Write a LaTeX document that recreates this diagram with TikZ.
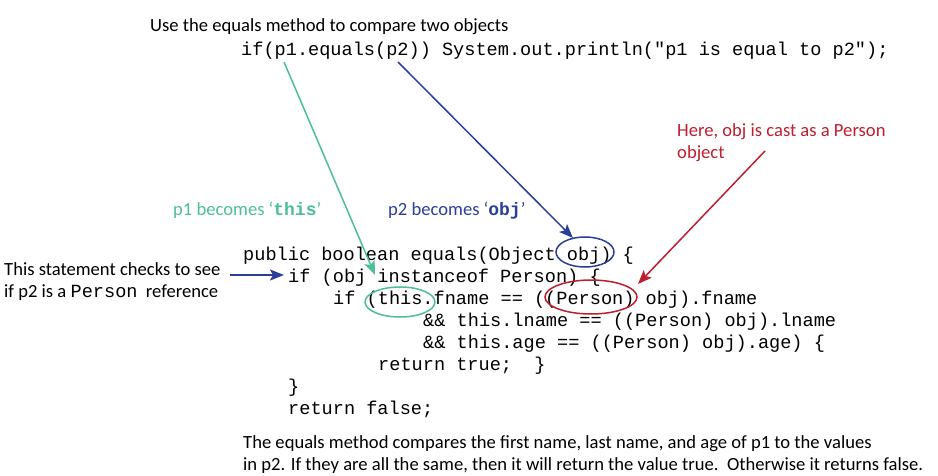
\documentclass[tikz,border=0pt]{standalone}
\usepackage{fontspec}
\setmainfont{Carlito}
\setmonofont{Liberation Mono}
\usetikzlibrary{arrows.meta}
\definecolor{cgreen}{HTML}{4DBF97}
\definecolor{cblue}{HTML}{2B3F98}
\definecolor{cred}{HTML}{BE1E2D}
\tikzset{
  code/.style={anchor=base west, inner sep=0pt, font=\fontsize{18.6}{22}\ttfamily},
  txt/.style={anchor=base west, inner sep=0pt, font=\fontsize{18.6}{22}\selectfont, align=left},
  arr/.style={line width=1.5pt, -{Stealth[length=14pt,width=11pt,inset=3pt]}},
}
\begin{document}
\begin{tikzpicture}[x=1pt,y=-1pt]
\useasboundingbox (0,0) rectangle (938,476);
% top
\node[txt] (top) at (150,32) {Use the equals method to compare two objects};
\node[code] (call) at (241,56) {if(p1.equals(p2)) System.out.println("p1 is equal to p2");};
\coordinate (p1) at (284,62);
\coordinate (p2) at (398,62);
% code lines
\node[code] (l1) at (243,261) {public boolean equals(Object obj) \{};
\node[code] (l2) at (288,282) {if (obj instanceof Person) \{};
\node[code] (l3) at (333,304) {if (this.fname == ((Person) obj).fname};
\node[code] (l4) at (423,326) {\&\& this.lname == ((Person) obj).lname};
\node[code] (l5) at (423,348) {\&\& this.age == ((Person) obj).age) \{};
\node[code] (l6) at (378,370) {return true;\ \ \}};
\node[code] (l7) at (288,392) {\}};
\node[code] (l8) at (288,414) {return false;};
% ellipses
\draw[cblue, line width=1.5pt] (585,252) ellipse [x radius=29, y radius=15];
\coordinate (eobj) at (573,238);
\draw[cred, line width=1.5pt] (591,297) ellipse [x radius=46, y radius=17];
\coordinate (eperson) at (638,284);
\draw[cgreen, line width=1.5pt] (400,302) ellipse [x radius=35, y radius=15];
\coordinate (ethis) at (375,275);
% labels
\node[txt, text=cgreen] (lab1) at (173,216) {p1 becomes `{\fontsize{18}{18}\ttfamily\bfseries this}'};
\node[txt, text=cblue] (lab2) at (388,216) {p2 becomes `{\fontsize{18}{18}\ttfamily\bfseries obj}'};
\node[txt, text=cred] (lab3) at (677,159) {Here, obj is cast as a Person\\object};
\coordinate (redstart) at (765,151);
\node[txt] (lab4) at (4,298) {This statement checks to see\\if p2 is a {\fontsize{18.6}{20}\ttfamily Person}\ \ reference};
\coordinate (lab4e) at (230,275);
\coordinate (l2w) at (284,275);
% bottom
\node[txt] (bot) at (243,470) {The equals method compares the first name, last name, and age of p1 to the values\\in p2. If they are all the same, then it will return the value true.\ \ Otherwise it returns false.};
% arrows
\draw[arr, cgreen] (p1) -- (ethis);
\draw[arr, cblue] (p2) -- (eobj);
\draw[arr, cred] (redstart) -- (eperson);
\draw[arr, cblue] (lab4e) -- (l2w);
\end{tikzpicture}
\end{document}
